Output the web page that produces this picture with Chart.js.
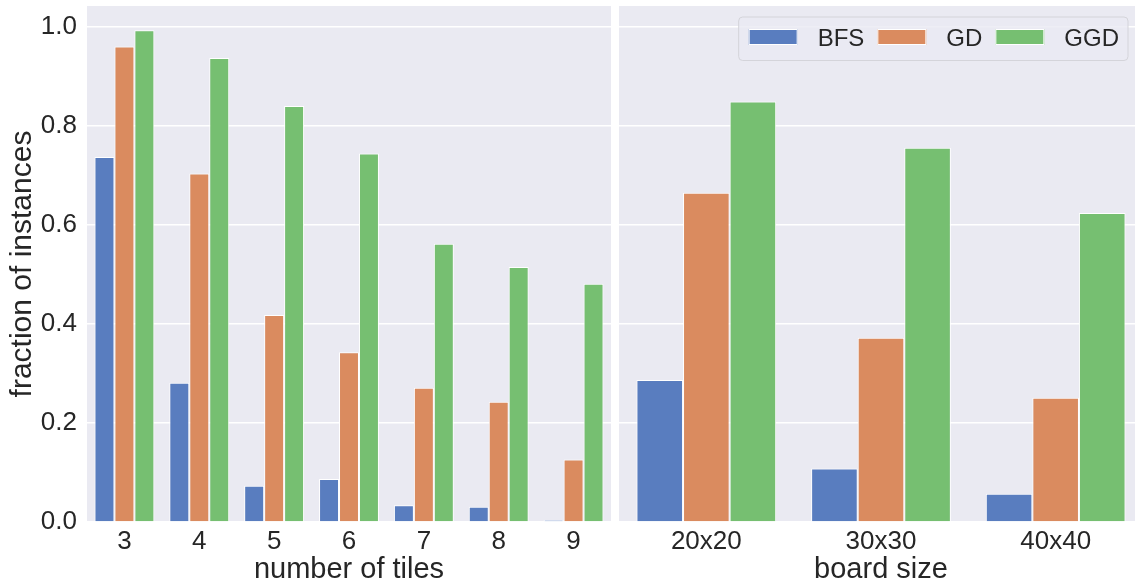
<!DOCTYPE html>
<html>
<head>
<meta charset="utf-8">
<script src="https://cdn.jsdelivr.net/npm/chart.js@4.4.1/dist/chart.umd.min.js"></script>
<style>
  html, body { margin: 0; padding: 0; background: #ffffff; overflow: hidden; width: 1135px; height: 584px; }
  #wrap { position: relative; width: 1135px; height: 584px; overflow: hidden; }
  canvas { position: absolute; top: 0; }
  #left { left: 0; }
  #right { left: 615px; }
</style>
</head>
<body>
<div id="wrap">
  <canvas id="left" width="615" height="584"></canvas>
  <canvas id="right" width="530" height="584"></canvas>
</div>
<script>
// Categories
const tileCounts = ['3', '4', '5', '6', '7', '8', '9'];
const boardSizes = ['20x20', '30x30', '40x40'];
const seriesNames = ['BFS', 'GD', 'GGD'];

// Fraction of solved instances by number of tiles
const bfsByTiles = [0.737, 0.281, 0.073, 0.087, 0.034, 0.031, 0.004];
const gdByTiles  = [0.960, 0.704, 0.418, 0.343, 0.271, 0.243, 0.126];
const ggdByTiles = [0.993, 0.937, 0.840, 0.744, 0.562, 0.515, 0.481];

// Fraction of solved instances by board size
const bfsByBoard = [0.287, 0.108, 0.057];
const gdByBoard  = [0.665, 0.372, 0.251];
const ggdByBoard = [0.849, 0.756, 0.624];

// Y axis ticks
const yTicks = [0.0, 0.2, 0.4, 0.6, 0.8, 1.0];
const yMax = 1.042;

const seriesColors = ['#597DBF', '#DA8B5F', '#76BF71'];
const FONT = '"Liberation Sans", Arial, sans-serif';
const TEXT = '#262626';
const PANEL_BG = '#EAEAF2';

Chart.defaults.font.family = FONT;
Chart.defaults.color = TEXT;

const panelBackground = {
  id: 'panelBackground',
  beforeDraw(chart) {
    const { ctx, chartArea: a } = chart;
    ctx.save();
    ctx.fillStyle = PANEL_BG;
    ctx.fillRect(a.left, a.top, a.right - a.left, a.bottom - a.top);
    ctx.restore();
  }
};

// Boxed legend in the upper right corner of the panel
const cornerLegend = {
  id: 'cornerLegend',
  afterDatasetsDraw(chart, args, opts) {
    if (!opts || !opts.show) return;
    const { ctx, chartArea: a } = chart;
    const items = chart.data.datasets.map(d => ({ label: d.label, color: d.backgroundColor }));
    ctx.save();
    ctx.font = '24px ' + FONT;
    const patchW = 49, patchH = 16, textGap = 20, itemGap = 13, padL = 10, padR = 9;
    let w = padL + padR;
    items.forEach((it, i) => {
      it.tw = ctx.measureText(it.label).width;
      w += patchW + textGap + it.tw + (i > 0 ? itemGap : 0);
    });
    const right = a.right - 15;
    const left = right - w;
    const top = 17, h = 43.5;
    // frame
    const r = 4;
    ctx.beginPath();
    ctx.moveTo(left + r, top);
    ctx.lineTo(left + w - r, top);
    ctx.arcTo(left + w, top, left + w, top + r, r);
    ctx.lineTo(left + w, top + h - r);
    ctx.arcTo(left + w, top + h, left + w - r, top + h, r);
    ctx.lineTo(left + r, top + h);
    ctx.arcTo(left, top + h, left, top + h - r, r);
    ctx.lineTo(left, top + r);
    ctx.arcTo(left, top, left + r, top, r);
    ctx.closePath();
    ctx.fillStyle = 'rgba(234,234,242,0.8)';
    ctx.fill();
    ctx.strokeStyle = '#D4D4DA';
    ctx.lineWidth = 1;
    ctx.stroke();
    // entries
    let x = left + padL;
    ctx.textBaseline = 'alphabetic';
    ctx.textAlign = 'left';
    items.forEach((it, i) => {
      if (i > 0) x += itemGap;
      ctx.fillStyle = it.color;
      ctx.fillRect(x, 29, patchW, patchH);
      ctx.strokeStyle = '#ffffff';
      ctx.lineWidth = 1;
      ctx.strokeRect(x + 0.5, 29.5, patchW - 1, patchH - 1);
      x += patchW + textGap;
      ctx.fillStyle = TEXT;
      ctx.fillText(it.label, x, 46);
      x += it.tw;
    });
    ctx.restore();
  }
};

function clearScalePadding(scale) {
  scale.paddingTop = 0;
  scale.paddingBottom = 0;
  scale.paddingLeft = 0;
  scale.paddingRight = 0;
}

function makeDatasets(values) {
  return values.map((vals, i) => ({
    label: seriesNames[i],
    data: vals,
    backgroundColor: seriesColors[i],
    borderColor: '#ffffff',
    borderWidth: 1,
    borderSkipped: 'start',
    categoryPercentage: 0.8,
    barPercentage: 1.0
  }));
}

function yScale(showLabels) {
  return {
    min: 0,
    max: yMax,
    afterBuildTicks(scale) { scale.ticks = yTicks.map(v => ({ value: v })); },
    afterFit(scale) {
      scale.width = showLabels ? 87 : 0;
      clearScalePadding(scale);
    },
    border: { display: false },
    grid: { color: '#ffffff', lineWidth: 1.5, drawTicks: false },
    ticks: {
      display: showLabels,
      padding: 10,
      font: { size: 26 },
      color: TEXT,
      callback: v => Number(v).toFixed(1)
    },
    title: {
      display: showLabels,
      text: 'fraction of instances',
      font: { size: 30, lineHeight: 1 },
      color: TEXT,
      padding: { top: 8, bottom: 0 }
    }
  };
}

function xScale(titleText) {
  return {
    type: 'category',
    afterFit(scale) {
      scale.height = 62;
      clearScalePadding(scale);
    },
    border: { display: false },
    grid: { display: false, drawTicks: false },
    ticks: { padding: 4, font: { size: 26 }, color: TEXT, maxRotation: 0 },
    title: {
      display: true,
      text: titleText,
      font: { size: 29, lineHeight: 1 },
      color: TEXT,
      padding: { top: 0, bottom: 0 }
    }
  };
}

function makeChart(id, labels, values, xTitle, showY, padding, legend) {
  return new Chart(document.getElementById(id), {
    type: 'bar',
    data: { labels, datasets: makeDatasets(values) },
    options: {
      responsive: false,
      maintainAspectRatio: false,
      devicePixelRatio: 1,
      animation: false,
      layout: { padding },
      plugins: {
        legend: { display: false },
        tooltip: { enabled: false },
        cornerLegend: { show: legend }
      },
      scales: { x: xScale(xTitle), y: yScale(showY) }
    },
    plugins: [panelBackground, cornerLegend]
  });
}

makeChart('left', tileCounts, [bfsByTiles, gdByTiles, ggdByTiles], 'number of tiles', true,
  { top: 6, left: 0, right: 4, bottom: 0 }, false);
makeChart('right', boardSizes, [bfsByBoard, gdByBoard, ggdByBoard], 'board size', false,
  { top: 6, left: 4, right: 2, bottom: 0 }, true);
</script>
</body>
</html>
